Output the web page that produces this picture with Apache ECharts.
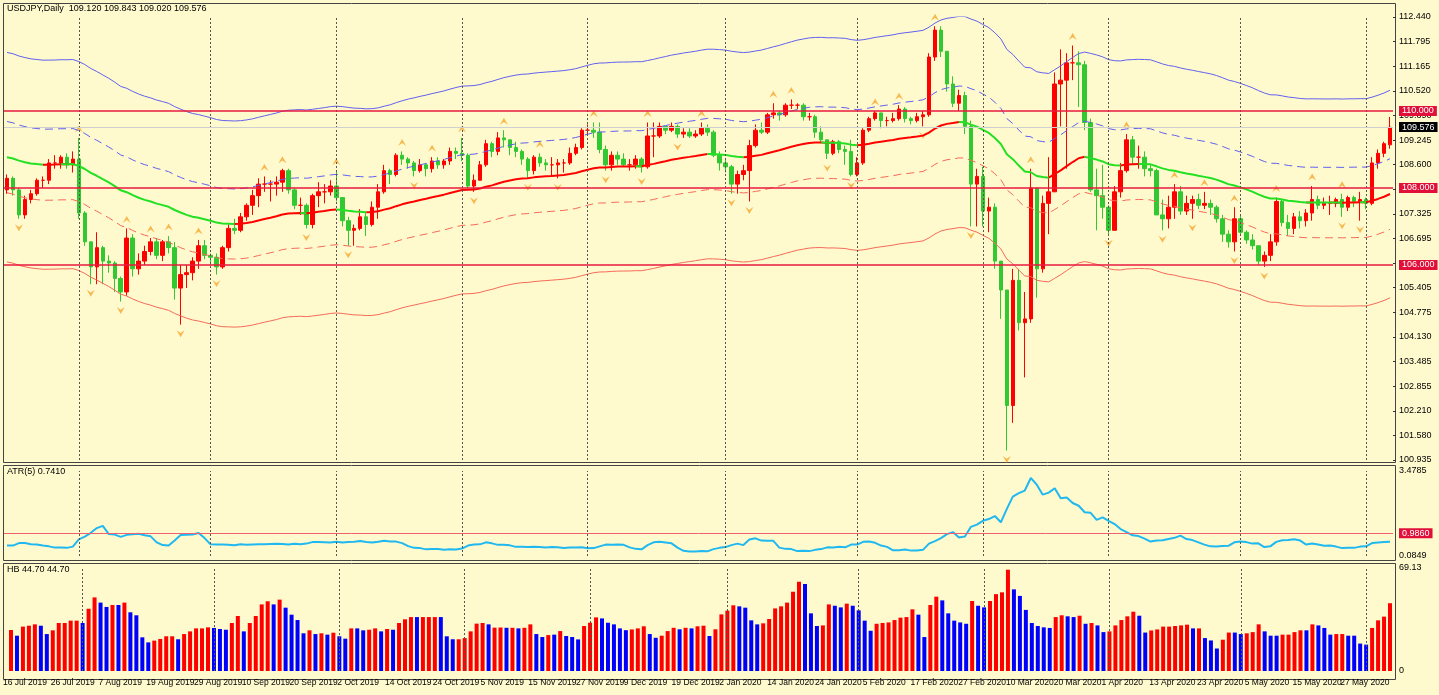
<!DOCTYPE html>
<html><head><meta charset="utf-8">
<script src="https://cdn.jsdelivr.net/npm/echarts@6/dist/echarts.min.js"></script>
<style>html,body{margin:0;padding:0;background:#fffacd;}#c{width:1439px;height:695px;}</style>
</head><body><div id="c"></div>
<script>
// ---- DATA ----
const closes = [
108.25,107.95,107.3,107.7,107.85,108.2,108.2,108.65,
108.65,108.8,108.6,108.75,107.35,106.6,105.95,106.45,
106.1,106.05,105.65,105.3,106.7,105.9,106.1,106.35,
106.6,106.25,106.6,106.45,105.4,105.75,105.8,106.1,
106.5,106.25,106.2,105.95,106.45,106.95,106.9,107.25,
107.55,107.8,108.1,108.1,108.1,108.15,108.45,107.95,
107.55,107.55,107.05,107.8,107.9,107.9,108.05,107.75,
107.15,106.9,106.95,107.25,107.05,107.5,107.9,108.45,
108.35,108.85,108.75,108.65,108.45,108.6,108.5,108.7,
108.6,108.7,108.95,108.9,108.85,108.05,108.2,108.6,
109.15,108.95,109.3,109.25,109.05,108.95,108.75,108.45,
108.8,108.65,108.6,108.6,108.65,108.65,108.9,109.05,
109.5,109.5,109.45,109.0,108.6,108.85,108.75,108.6,
108.6,108.75,108.55,109.35,109.35,109.6,109.5,109.6,
109.4,109.45,109.35,109.4,109.55,109.45,108.85,108.65,
108.55,108.1,108.35,108.45,109.1,109.5,109.45,109.9,
109.95,109.9,110.15,110.15,110.15,109.85,109.85,109.45,
109.25,108.9,109.2,109.0,108.95,108.35,108.65,109.5,
109.8,109.95,109.75,109.75,109.8,110.05,109.8,109.75,
109.85,109.9,111.4,112.1,111.55,110.7,110.2,110.4,
109.6,108.1,108.3,107.4,107.5,106.1,105.35,102.35,
105.6,104.5,104.6,108.0,105.9,107.6,107.9,110.7,
110.8,111.25,111.25,111.2,109.7,107.95,107.8,107.5,
106.9,107.9,108.45,109.25,108.8,108.8,108.5,108.45,
107.3,107.2,107.5,107.9,107.4,107.6,107.7,107.55,
107.6,107.5,107.2,106.8,106.6,107.2,106.85,106.65,
106.5,106.1,106.25,106.6,107.65,107.1,106.95,107.25,
107.15,107.35,107.7,107.55,107.6,107.6,107.7,107.5,
107.75,107.65,107.7,107.6,108.65,108.9,109.15,109.576];
const highs = [
108.35,108.3,108.0,107.8,107.95,108.25,108.3,108.75,
108.85,108.85,108.9,108.95,109.3,107.4,106.6,106.85,
106.5,106.25,106.1,105.7,106.95,106.8,106.3,106.5,
106.7,106.7,106.65,106.75,106.6,106.0,106.0,106.2,
106.65,106.65,106.3,106.3,106.5,107.05,107.2,107.35,
107.6,107.95,108.25,108.3,108.2,108.3,108.5,108.5,
108.0,107.75,107.6,107.85,108.15,108.1,108.2,108.45,
107.75,107.25,107.05,107.45,107.35,107.65,108.1,108.6,
108.5,108.9,108.95,108.8,108.7,108.75,108.65,108.8,
108.8,108.75,109.05,109.05,109.3,108.9,108.35,108.7,
109.25,109.2,109.45,109.5,109.25,109.2,109.0,108.8,
108.85,108.9,108.75,108.8,108.75,108.75,109.05,109.15,
109.55,109.65,109.7,109.7,109.1,108.95,108.95,108.9,
108.75,108.85,108.8,109.7,109.7,109.7,109.6,109.7,
109.65,109.55,109.55,109.5,109.7,109.65,109.5,108.95,
108.75,108.6,108.45,108.6,109.25,109.65,109.7,109.95,
110.2,110.0,110.2,110.3,110.2,110.2,109.95,109.9,
109.6,109.1,109.25,109.25,109.1,109.25,108.8,109.55,
109.85,110.0,109.95,109.85,109.95,110.15,110.1,109.85,
109.95,110.0,111.5,112.2,112.2,111.5,110.9,110.55,
110.5,109.75,108.5,108.55,107.75,107.6,106.1,105.2,
105.9,105.9,105.3,108.5,107.9,107.8,108.8,111.0,
111.6,111.5,111.7,111.55,111.3,109.8,108.5,108.6,
107.55,108.05,108.65,109.4,109.35,109.1,108.95,108.6,
108.5,107.7,107.8,108.1,108.05,107.8,107.8,107.85,
107.9,107.7,107.55,107.3,106.9,107.5,107.3,106.9,
106.8,106.5,106.35,106.8,107.75,107.7,107.3,107.35,
107.4,107.45,108.05,107.8,107.75,107.8,107.75,107.85,
107.8,107.8,107.9,107.75,108.8,109.0,109.2,109.843];
const lows = [
107.85,107.8,107.2,107.2,107.6,107.8,108.0,108.1,
108.5,108.5,108.5,108.4,107.2,106.5,105.5,105.5,
105.5,105.8,105.3,105.05,105.2,105.7,105.75,106.0,
106.25,106.15,106.1,106.3,105.1,104.45,105.4,105.6,
105.9,106.15,106.0,105.75,105.9,106.35,106.8,106.85,
107.15,107.3,107.5,107.9,107.65,107.8,107.9,107.85,
107.45,107.3,106.95,106.95,107.5,107.6,107.8,107.65,
107.0,106.5,106.5,106.9,106.75,107.0,107.2,107.85,
108.1,108.3,108.6,108.5,108.3,108.4,108.3,108.4,
108.5,108.5,108.6,108.75,108.7,108.0,107.9,108.2,
108.55,108.8,108.85,109.05,108.85,108.8,108.6,108.25,
108.35,108.55,108.45,108.3,108.25,108.4,108.6,108.85,
109.0,109.35,109.3,108.9,108.45,108.45,108.6,108.55,
108.45,108.5,108.4,108.5,108.8,109.3,109.4,109.45,
109.3,109.3,109.3,109.3,109.35,109.35,108.8,108.45,
108.4,107.85,107.85,108.2,107.65,109.05,109.4,109.4,
109.8,109.75,109.85,110.05,110.05,109.75,109.75,109.3,
109.2,108.75,108.85,108.9,108.6,108.3,108.3,108.6,
109.45,109.75,109.55,109.6,109.7,109.75,109.7,109.65,
109.7,109.6,109.85,111.3,111.4,110.5,110.1,110.0,
109.4,107.0,107.0,107.0,106.85,105.9,104.6,101.18,
101.9,104.3,103.08,104.5,105.15,105.8,106.8,107.9,
109.6,108.5,110.8,110.1,109.5,107.9,106.9,107.2,
106.8,106.95,107.75,108.4,108.6,108.5,108.3,108.3,
107.3,106.9,106.95,107.2,107.3,107.3,107.2,107.45,
107.45,107.3,107.1,106.6,106.45,106.35,106.75,106.55,
106.4,106.0,105.95,106.1,106.5,107.0,106.75,106.8,
106.95,107.0,107.15,107.45,107.45,107.3,107.5,107.25,
107.4,107.5,107.15,107.45,107.55,108.5,108.8,109.02];
const firstOpen = 107.95, lastOpen = 109.12;
const hbValues = [
27.5,23.7,29.8,30.4,31.3,30.4,24.8,27.3,32.2,32.2,
33.8,33.8,32.2,41.8,49.4,45.9,43.0,44.3,44.3,45.9,
39.4,37.4,22.6,19.2,20.4,21.5,23.3,23.3,21.3,24.8,
26.6,28.6,28.6,29.3,28.9,28.2,27.7,32.2,36.9,26.6,
32.2,36.9,44.7,46.8,44.7,47.9,42.5,37.8,34.2,25.3,
27.3,24.8,25.3,24.4,25.7,23.3,21.7,28.6,28.6,27.3,
27.7,28.6,26.6,28.2,27.7,32.2,34.7,36.2,36.2,36.2,
36.2,36.2,36.2,23.3,21.3,21.3,22.1,26.6,31.8,32.2,
31.3,
29.1,29.2,29.0,29.0,28.6,29.0,31.3,24.8,22.8,24.1,
24.4,26.8,23.5,22.8,21.2,30.2,32.4,36.0,35.3,32.4,
31.3,28.6,27.4,27.9,28.6,30.0,24.8,22.3,23.7,26.8,
29.0,28.0,29.0,28.6,30.0,30.4,23.5,28.0,38.0,40.5,
44.1,43.4,42.5,34.0,31.3,32.0,34.9,42.0,43.4,45.9,
53.2,59.9,58.4,38.7,
30.2,30.6,44.7,43.8,42.7,45.2,43.8,40.7,33.8,27.0,
31.7,32.2,32.6,34.2,35.8,36.2,41.4,37.8,22.8,44.3,
49.9,47.4,38.7,33.8,32.6,31.7,47.0,43.8,42.7,47.0,
51.6,52.8,68.0,54.8,50.4,41.0,32.2,30.2,29.3,28.9,
36.2,37.4,36.7,36.2,37.1,31.7,32.2,30.6,26.1,26.6,
30.6,34.2,36.7,39.8,37.1,25.8,27.2,27.9,29.8,29.8,
30.2,30.6,31.1,28.6,28.6,22.1,20.5,15.1,21.0,25.8,
25.8,24.8,25.3,26.1,31.3,26.6,23.7,23.7,24.4,24.4,
26.1,27.3,27.3,31.3,30.6,28.9,24.4,24.8,24.8,23.7,
23.7,18.4,17.7,28.9,34.0,36.5,45.5];
const hbDir =
 "rbrrrbbrrr"+"rrbrrbbrbr"+"bbbbrrrrbr"+"rrrrbbbrrb"+"rrrrbrbbbb"+"rbrbrbbrbb"+"rrbrbrrrbr"+"rrbbbrrrrr"+"b"+
 "rrbrbrrbbr"+"brbbbrrrbb"+"bbbrrrbbrr"+"rbrbrrbrrr"+"rbbbbrrrrr"+"rrbb"+
 "brrbbrbbbb"+"rrrrrrrbbr"+"rbbbbbrbbr"+"rrrbbbbbbb"+"rrbbrbrbbr"+
 "rrrrbbrrrr"+"rrrbrbbbrr"+"bbrrrbbbrr"+"rrbrbbbrrb"+"bbbrrrr";
const priceTicks = ["100.935","101.580","102.210","102.855","103.485","104.130","104.775","105.405","106.050","106.695","107.325","107.955","108.600","109.245","109.890","110.520","111.165","111.795","112.440"];
const levels = [110, 108, 106];
const atrLevel = 0.986;
const midSeed = 108.8;        // moving average value at the first bar
const maPeriod = 50, envInner = 0.0085, envOuter = 0.025, atrPeriod = 5;
const gridLines = [12,34,55,76,97,120,142,163,184,206,227];
const holidays = ["2019-12-25","2020-01-01"];

// ---- dates ----
const MON = ["Jan","Feb","Mar","Apr","May","Jun","Jul","Aug","Sep","Oct","Nov","Dec"];
const dates = [];
for (let d = new Date(Date.UTC(2019,6,16)); d <= new Date(Date.UTC(2020,5,5)); d.setUTCDate(d.getUTCDate()+1)) {
  const wd = d.getUTCDay(); const iso = d.toISOString().slice(0,10);
  if (wd===0||wd===6||holidays.includes(iso)) continue;
  dates.push(d.getUTCDate()+" "+MON[d.getUTCMonth()]+" "+d.getUTCFullYear());
}
const N = closes.length;
const opens = closes.map((c,i)=> i===0 ? firstOpen : (i===N-1 ? lastOpen : closes[i-1]));
const candles = closes.map((c,i)=>[opens[i], c, Math.min(lows[i],opens[i],c), Math.max(highs[i],opens[i],c)]);

// ---- indicators ----
const mid = []; let e = midSeed; const a = 2/(maPeriod+1);
closes.forEach((c,i)=>{ if(i>0) e = e + a*(c-e); mid.push(+e.toFixed(4)); });
const upOut = mid.map(m=>m*(1+envOuter)), upIn = mid.map(m=>m*(1+envInner));
const dnIn = mid.map(m=>m*(1-envInner)), dnOut = mid.map(m=>m*(1-envOuter));
const rising = mid.map((m,i)=> i===0 ? false : m>=mid[i-1]);
const midUp = mid.map((m,i)=> (rising[i] || (i+1<N && rising[i+1])) ? m : null);
const midDn = mid.map((m,i)=> (!rising[i] || (i+1<N && !rising[i+1])) ? m : null);
const tr = candles.map((k,i)=> i===0 ? k[3]-k[2] : Math.max(k[3]-k[2], Math.abs(k[3]-closes[i-1]), Math.abs(k[2]-closes[i-1])));
const atr = tr.map((t,i)=>{ const s=Math.max(0,i-atrPeriod+1); let sum=0; for(let j=s;j<=i;j++) sum+=tr[j]; return +(sum/(i-s+1)).toFixed(4); });
const fracUp = [], fracDn = [];
for (let i=2;i<N-2;i++){
  const h=candles[i][3], l=candles[i][2];
  if (h>candles[i-1][3]&&h>candles[i-2][3]&&h>=candles[i+1][3]&&h>=candles[i+2][3]) fracUp.push([i,h]);
  if (l<candles[i-1][2]&&l<candles[i-2][2]&&l<=candles[i+1][2]&&l<=candles[i+2][2]) fracDn.push([i,l]);
}
const hbData = hbValues.map((v,i)=>({value:v, itemStyle:{color: hbDir[i]==='b' ? '#0000ff' : '#ff0000'}}));

// ---- chart ----
const FF = '"Liberation Sans Narrow","Liberation Sans",sans-serif';
const chart = echarts.init(document.getElementById('c'));
const G = {left:4, right:46};
const vLines = ()=>({silent:true, symbol:'none', label:{show:false},
  lineStyle:{color:'#555', type:[2,2], width:1}, data: gridLines.map(x=>({xAxis:x}))});
const txt = {fontFamily:FF, fontSize:9, color:'#000'};
const lvlLabel = (txtv,bg)=>({show:true, position:'end', formatter:txtv, color:'#fff', backgroundColor:bg,
  padding:[1,3,0,3], fontSize:9, fontFamily:FF, distance:6});
const xBase = (gi,show)=>({type:'category', gridIndex:gi, data:dates, boundaryGap:true,
  axisLine:{show:false}, axisTick:{show:false}, splitLine:{show:false},
  axisLabel: show ? {show:true, interval:0, hideOverlap:false, showMinLabel:true, showMaxLabel:false,
    formatter:(v,i)=> i%8===0 ? v : '',
    align:'left', margin:7, fontFamily:FF, fontSize:8.5, color:'#000', padding:[0,0,0,-8]} : {show:false}});
chart.setOption({
  animation:false,
  backgroundColor:'#fffacd',
  grid:[{...G, top:17, height:443},{...G, top:471, height:85},{...G, top:568, height:103}],
  xAxis:[xBase(0,false), xBase(1,false), xBase(2,true)],
  yAxis:[
    {type:'value', gridIndex:0, min:100.935, max:112.44, show:false, scale:true},
    {type:'value', gridIndex:0, min:0, max:18, interval:1, position:'right',
      axisLine:{show:false}, axisTick:{show:true, length:3, lineStyle:{color:'#333'}}, splitLine:{show:false},
      axisLabel:{...txt, margin:6, formatter:v=>priceTicks[v]}},
    {type:'value', gridIndex:1, min:0.0849, max:3.4785, interval:3.3936, position:'right',
      axisLine:{show:false}, axisTick:{show:false}, splitLine:{show:false},
      axisLabel:{...txt, margin:6, showMaxLabel:true, formatter:v=>v.toFixed(4)}},
    {type:'value', gridIndex:2, min:0, max:69.13, interval:69.13, position:'right',
      axisLine:{show:false}, axisTick:{show:false}, splitLine:{show:false},
      axisLabel:{...txt, margin:6, showMaxLabel:true, formatter:v=> v===0 ? '0' : v.toFixed(2)}}
  ],
  graphic:[
    {type:'rect', shape:{x:3.5,y:3.5,width:1392,height:459}, style:{fill:null, stroke:'#444', lineWidth:1}, silent:true},
    {type:'rect', shape:{x:3.5,y:465.5,width:1392,height:95}, style:{fill:null, stroke:'#444', lineWidth:1}, silent:true},
    {type:'rect', shape:{x:3.5,y:563.5,width:1392,height:116}, style:{fill:null, stroke:'#444', lineWidth:1}, silent:true},
    {type:'text', left:7, top:4, style:{text:'USDJPY,Daily  109.120 109.843 109.020 109.576', font:'9px '+FF, fill:'#000'}},
    {type:'text', left:7, top:467, style:{text:'ATR(5) 0.7410', font:'9px '+FF, fill:'#000'}},
    {type:'text', left:7, top:565, style:{text:'HB 44.70 44.70', font:'9px '+FF, fill:'#000'}}
  ],
  series:[
    {type:'line', xAxisIndex:0, yAxisIndex:0, data:upOut, symbol:'none', lineStyle:{color:'#6060f0', width:1}, silent:true},
    {type:'line', xAxisIndex:0, yAxisIndex:0, data:upIn, symbol:'none', lineStyle:{color:'#6060f0', width:1, type:[8,5]}, silent:true},
    {type:'line', xAxisIndex:0, yAxisIndex:0, data:dnIn, symbol:'none', lineStyle:{color:'#f56a5a', width:1, type:[8,5]}, silent:true},
    {type:'line', xAxisIndex:0, yAxisIndex:0, data:dnOut, symbol:'none', lineStyle:{color:'#f56a5a', width:1}, silent:true},
    {type:'line', xAxisIndex:0, yAxisIndex:0, data:midUp, symbol:'none', connectNulls:false, lineStyle:{color:'#ff0000', width:2}, silent:true},
    {type:'line', xAxisIndex:0, yAxisIndex:0, data:midDn, symbol:'none', connectNulls:false, lineStyle:{color:'#22e022', width:2}, silent:true},
    {type:'candlestick', xAxisIndex:0, yAxisIndex:0, data:candles, barWidth:4, clip:false,
      itemStyle:{color:'#ff0000', color0:'#32c832', borderColor:'#ff0000', borderColor0:'#32c832', borderWidth:1},
      markLine:{silent:true, symbol:'none', data:[
        ...gridLines.map(x=>({xAxis:x, lineStyle:{color:'#555', type:[2,2], width:1}, label:{show:false}})),
        {yAxis:109.576, lineStyle:{color:'#cfcfcf', type:'solid', width:1}, label:lvlLabel('109.576','#000')},
        ...levels.map(l=>({yAxis:l, lineStyle:{color:'#e8183c', type:'solid', width:1.5}, label:lvlLabel(l.toFixed(3),'#e0103a')}))
      ]}},
    {type:'scatter', xAxisIndex:0, yAxisIndex:0, data:fracUp, symbol:'path://M0,10 L5,0 L10,10 L5,6 Z', symbolSize:[8,7], symbolOffset:[0,-9], itemStyle:{color:'#f5a830'}, silent:true},
    {type:'scatter', xAxisIndex:0, yAxisIndex:0, data:fracDn, symbol:'path://M0,0 L5,10 L10,0 L5,4 Z', symbolSize:[8,7], symbolOffset:[0,9], itemStyle:{color:'#f5a830'}, silent:true},
    {type:'line', xAxisIndex:1, yAxisIndex:2, data:atr, symbol:'none', lineStyle:{color:'#20b8f0', width:2}, silent:true,
      markLine:{silent:true, symbol:'none', data:[
        ...gridLines.map(x=>({xAxis:x, lineStyle:{color:'#555', type:[2,2], width:1}, label:{show:false}})),
        {yAxis:atrLevel, lineStyle:{color:'#f06070', type:'solid', width:1}, label:lvlLabel('0.9860','#e0103a')}
      ]}},
    {type:'bar', xAxisIndex:2, yAxisIndex:3, data:hbData, barWidth:4, silent:true,
      markLine:vLines()}
  ]
});
</script></body></html>
